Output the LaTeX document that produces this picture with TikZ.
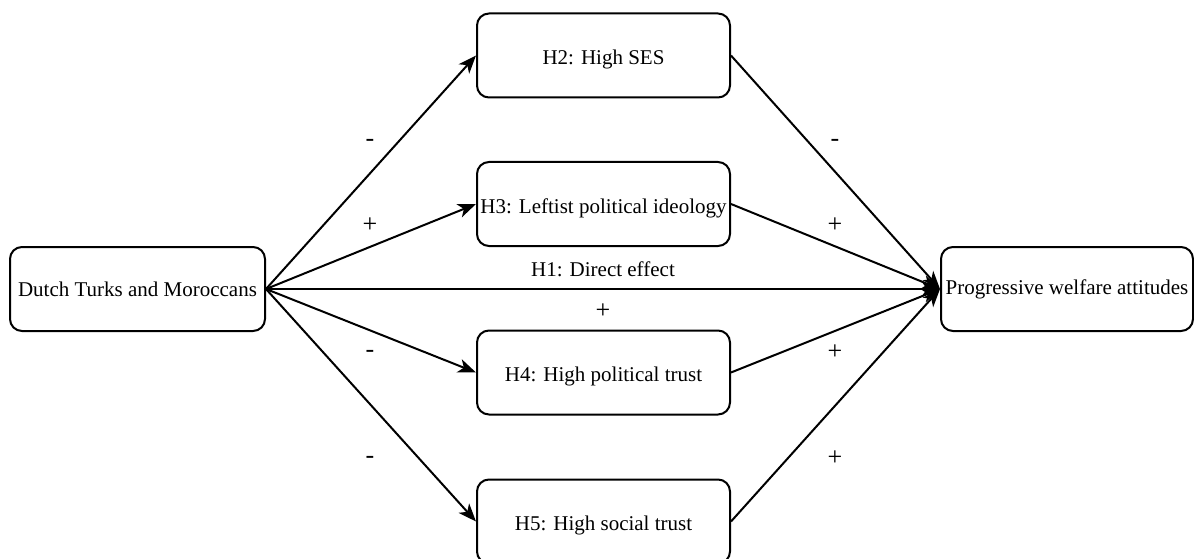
\documentclass[tikz,border=0pt]{standalone}
\usepackage{fontspec}
\setmainfont{Liberation Serif}
\usetikzlibrary{arrows.meta}
\begin{document}
\begin{tikzpicture}[x=1pt,y=-1pt,
  box/.style={draw,line width=2pt,rounded corners=12pt,minimum height=84pt,inner sep=0pt,font=\fontsize{21}{24}\selectfont},
  mid/.style={box,minimum width=253pt,text height=19pt,text depth=1pt},
  side/.style={box,minimum width=255pt},
  arr/.style={line width=2pt,-{Stealth[length=18pt,width=14pt,inset=5pt]}},
  lbl/.style={font=\fontsize{26}{28}\selectfont}]
\useasboundingbox (0,0) rectangle (1194,559);
\node[side] (L) at (137.5,289) {Dutch Turks and Moroccans};
\node[side,minimum width=252pt] (R) at (1067,289) {Progressive welfare attitudes};
\node[mid] (H2) at (603.5,55.5) {H2: High SES};
\node[mid] (H3) at (603.5,204) {H3: Leftist political ideology};
\node[mid] (H4) at (603.5,372.5) {H4: High political trust};
\node[mid] (H5) at (603.5,521.5) {H5: High social trust};
\foreach \h in {H2,H3,H4,H5}{
  \draw[arr] (L.east) -- (\h.west);
  \draw[arr] (\h.east) -- (R.west);
}
\draw[arr] (L.east) -- (R.west);
\node[font=\fontsize{21}{24}\selectfont] (d) at (603,269) {H1: Direct effect};
\node[lbl] (p0) at (603,311) {+};
\node[lbl] (a) at (370,143) {-};
\node[lbl] (b) at (370,225) {+};
\node[lbl] (c) at (370,354) {-};
\node[lbl] (e) at (370,460) {-};
\node[lbl] (f) at (835,143) {-};
\node[lbl] (g) at (835,225) {+};
\node[lbl] (h) at (835,352) {+};
\node[lbl] (i) at (835,458) {+};
\end{tikzpicture}
\end{document}
